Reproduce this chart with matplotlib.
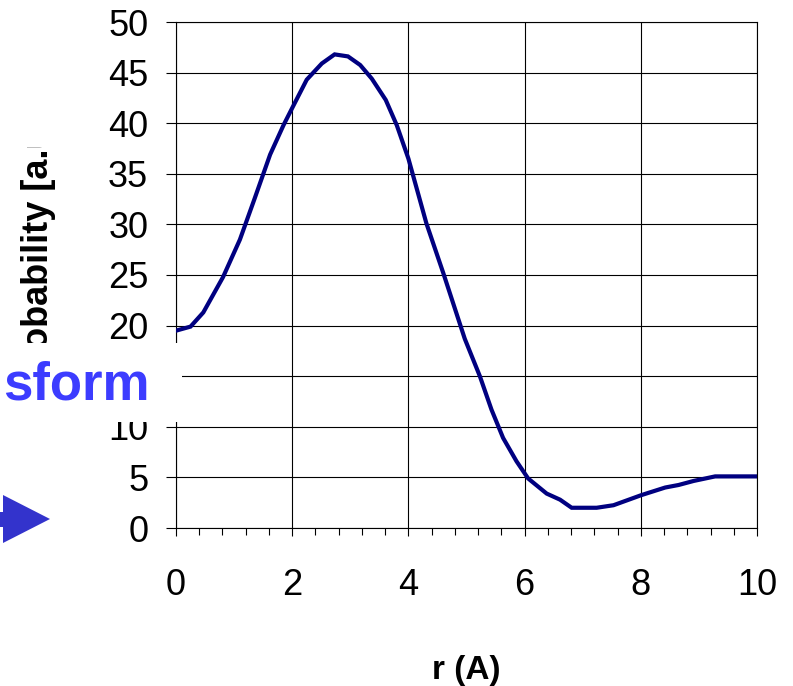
import numpy as np
import matplotlib.pyplot as plt
from matplotlib.patches import Rectangle, Polygon
from matplotlib.transforms import Bbox, TransformedBbox

plt.rcParams['font.family'] = ['Liberation Sans', 'DejaVu Sans']

# Radial distribution read along r (Angstrom)
r = [0, 0.25, 0.47, 0.81, 1.10, 1.35, 1.62, 1.85, 2.0, 2.25, 2.51, 2.73,
     2.96, 3.17, 3.37, 3.61, 3.80, 4.0, 4.31, 4.60, 4.97, 5.23, 5.43, 5.63,
     5.86, 6.06, 6.38, 6.61, 6.81, 7.24, 7.53, 8.01, 8.42, 8.65, 8.91, 9.28,
     10.0]
prob = [19.5, 19.9, 21.3, 24.8, 28.5, 32.5, 36.9, 39.8, 41.5, 44.3, 45.9,
        46.8, 46.6, 45.75, 44.4, 42.3, 39.8, 36.5, 30.1, 25.2, 18.7, 15.0,
        11.7, 8.9, 6.6, 4.9, 3.4, 2.8, 2.0, 2.0, 2.25, 3.25, 4.0, 4.25, 4.65,
        5.1, 5.1]

x_major = [0, 2, 4, 6, 8, 10]
y_major = [0, 5, 10, 15, 20, 25, 30, 35, 40, 45, 50]
# the 15 label sits under the caption panel
y_labels = ['0', '5', '10', '', '20', '25', '30', '35', '40', '45', '50']

W, H = 793, 686
fig = plt.figure(figsize=(W / 100, H / 100), dpi=100)
ax = fig.add_axes([176 / W, 1 - 528 / H, 581 / W, 506 / H])

ax.plot(r, prob, color='#000080', lw=3, solid_joinstyle='miter', zorder=3)

ax.set_xlim(0, 10)
ax.set_ylim(0, 50)
ax.set_xticks(x_major)
ax.set_xticks(np.arange(0, 10.01, 0.4), minor=True)
ax.set_yticks(y_major)
ax.set_yticklabels(y_labels)
ax.grid(True, which='major', color='black', lw=0.8)
for s in ax.spines.values():
    s.set_color('black')
    s.set_linewidth(0.8)
ax.tick_params(axis='y', direction='out', length=7, width=0.8,
               labelsize=26, pad=13)
ax.tick_params(axis='x', which='both', direction='out', length=6, width=0.8,
               labelsize=26, pad=23)
ax.tick_params(axis='x', which='minor', length=5)

ax.set_xlabel('r (A)', fontsize=24, fontweight='bold', va='center')
ax.xaxis.set_label_coords(0.5, (528 - 671) / 506)

# rotated axis title, partly hidden
yl = fig.text(48 / W, 1 - 387 / H, 'Probability [a.u.]', rotation=90,
              rotation_mode='anchor', ha='left', va='baseline',
              fontsize=26, fontweight='bold')
yl.set_clip_box(TransformedBbox(Bbox([[0, 1 - 343 / H], [1, 1 - 147 / H]]),
                                fig.transFigure))
yl.set_clip_on(True)

# white panel over the axis with the blue caption
fig.patches.append(Rectangle((0, 1 - 422 / H), 182 / W, 79 / H,
                             transform=fig.transFigure, facecolor='white',
                             edgecolor='none', zorder=5))
fig.text(3 / W, 1 - 400 / H, 'sform', color='#3c3cff', fontsize=38,
         fontweight='bold', ha='left', va='baseline', zorder=6)

# blue arrow
arrow = [(0, 512), (3, 512), (3, 495), (50, 519), (3, 543), (3, 527), (0, 527)]
fig.patches.append(Polygon([(x / W, 1 - y / H) for x, y in arrow],
                           closed=True, transform=fig.transFigure,
                           facecolor='#3333cc', edgecolor='none', zorder=6))

fig.savefig('out.png', dpi=100)
